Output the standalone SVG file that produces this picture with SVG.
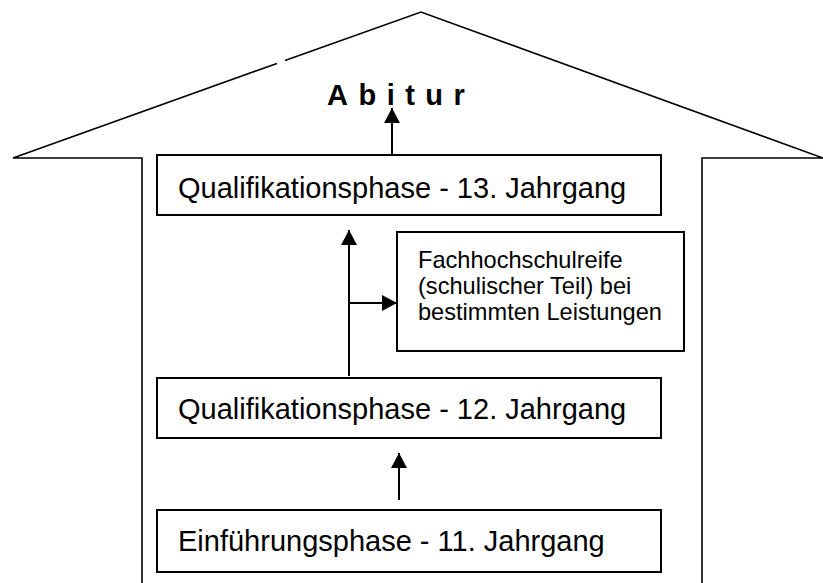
<svg xmlns="http://www.w3.org/2000/svg" width="823" height="583" viewBox="0 0 823 583">
<defs>
<style>
.ln{fill:none;stroke:#000;stroke-width:1.6}
.box{fill:#fff;stroke:#000;stroke-width:2}
.t{font-family:"Liberation Sans",Arial,sans-serif;font-size:29px;fill:#000}
.s{font-family:"Liberation Sans",Arial,sans-serif;font-size:23.6px;fill:#000}
.ttl{font-family:"Liberation Sans",Arial,sans-serif;font-size:29px;font-weight:bold;letter-spacing:10.5px;fill:#000}
.cn{fill:none;stroke:#000;stroke-width:2;marker-end:url(#ah)}
</style>
<marker id="ah" markerUnits="userSpaceOnUse" markerWidth="16" markerHeight="17" refX="15" refY="8" orient="auto" viewBox="0 0 16 17">
<path d="M0,0 L15,8 L0,16 z" fill="#000"/>
</marker>
</defs>
<rect width="823" height="583" fill="#fff"/>
<g id="house">
<path class="ln" d="M142,583 L142,158 L13,158 L277,63.4"/>
<path class="ln" d="M285,60.6 L421,12 L823,158 L702,158 L702,583"/>
</g>
<g id="abitur">
<text class="ttl" x="327" y="105">Abitur</text>
</g>
<g id="q13">
<rect class="box" x="157" y="155" width="504" height="60"/>
<text class="t" x="178" y="198">Qualifikationsphase - 13. Jahrgang</text>
</g>
<g id="fhr">
<rect class="box" x="397" y="232" width="287" height="119"/>
<text class="s" x="418" y="268">Fachhochschulreife</text>
<text class="s" x="418" y="294">(schulischer Teil) bei</text>
<text class="s" x="418" y="320">bestimmten Leistungen</text>
</g>
<g id="q12">
<rect class="box" x="157" y="378" width="504" height="60"/>
<text class="t" x="178" y="419">Qualifikationsphase - 12. Jahrgang</text>
</g>
<g id="e11">
<rect class="box" x="157" y="510" width="504" height="62"/>
<text class="t" x="178" y="551">Einführungsphase - 11. Jahrgang</text>
</g>
<g id="connectors">
<path class="cn" d="M392,155 L392,108"/>
<path class="cn" d="M349,376 L349,230"/>
<path class="cn" d="M349,303 L397,303"/>
<path class="cn" d="M399,500 L399,453"/>
</g>
</svg>
